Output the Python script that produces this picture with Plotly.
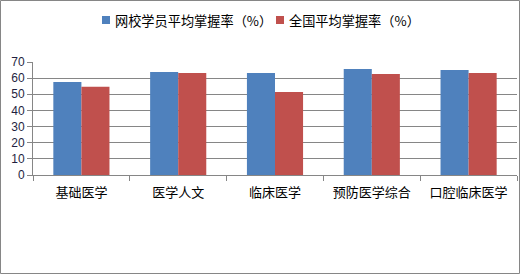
import plotly.graph_objects as go

categories = ["基础医学", "医学人文", "临床医学", "预防医学综合", "口腔临床医学"]
school_values = [57.6, 63.8, 63.2, 65.7, 65.1]
national_values = [54.6, 63.2, 51.4, 62.6, 63.2]
series_names = ["网校学员平均掌握率（%）", "全国平均掌握率（%）"]
series_colors = ["#4F81BD", "#C0504D"]
y_ticks = [0, 10, 20, 30, 40, 50, 60, 70]

W, H = 520, 274
L, R, T, B = 33, 3, 62, 99
pw, ph = W - L - R, H - T - B

fig = go.Figure()
fig.add_trace(go.Bar(x=categories, y=school_values, name=series_names[0],
                     marker=dict(color=series_colors[0], line=dict(width=0))))
fig.add_trace(go.Bar(x=categories, y=national_values, name=series_names[1],
                     marker=dict(color=series_colors[1], line=dict(width=0))))

def px_x(p):
    return (p - L) / pw

def px_y(p):
    return (H - B - p) / ph

shapes = [dict(type="rect", xref="paper", yref="paper",
               x0=px_x(0.5), x1=px_x(W - 0.5), y0=px_y(0.5), y1=px_y(H - 0.5),
               line=dict(color="#868686", width=1), fillcolor="rgba(0,0,0,0)", layer="above")]
annotations = []
legend_sq_x = [102, 276]
for sx, name, col in zip(legend_sq_x, series_names, series_colors):
    shapes.append(dict(type="rect", xref="paper", yref="paper",
                       x0=px_x(sx), x1=px_x(sx + 8), y0=px_y(16), y1=px_y(24),
                       line=dict(width=0), fillcolor=col))
    annotations.append(dict(xref="paper", yref="paper", x=px_x(sx + 11), y=px_y(20),
                            xanchor="left", yanchor="middle", text=name, showarrow=False,
                            font=dict(size=13.2, family="Noto Sans CJK SC", color="black")))

fig.update_layout(
    width=W, height=H,
    margin=dict(l=L, r=R, t=T, b=B),
    paper_bgcolor="white", plot_bgcolor="white",
    barmode="group", bargap=0.42, bargroupgap=0,
    font=dict(family="Noto Sans CJK SC", size=12, color="black"),
    showlegend=False,
    xaxis=dict(showline=True, linecolor="#868686", linewidth=1, ticks="outside",
               tickson="boundaries", ticklen=5, tickcolor="#868686",
               ticklabelstandoff=5,
               tickfont=dict(size=13, family="Noto Sans CJK SC"), showgrid=False),
    yaxis=dict(range=[0, 70], tickvals=y_ticks, showline=True, linecolor="#868686",
               linewidth=1, ticks="outside", ticklen=5, tickcolor="#868686",
               gridcolor="#868686", gridwidth=1, zeroline=False,
               tickfont=dict(size=12, family="Liberation Sans", color="#1F1F3F")),
    shapes=shapes,
    annotations=annotations,
)

fig.write_html("out.html")
